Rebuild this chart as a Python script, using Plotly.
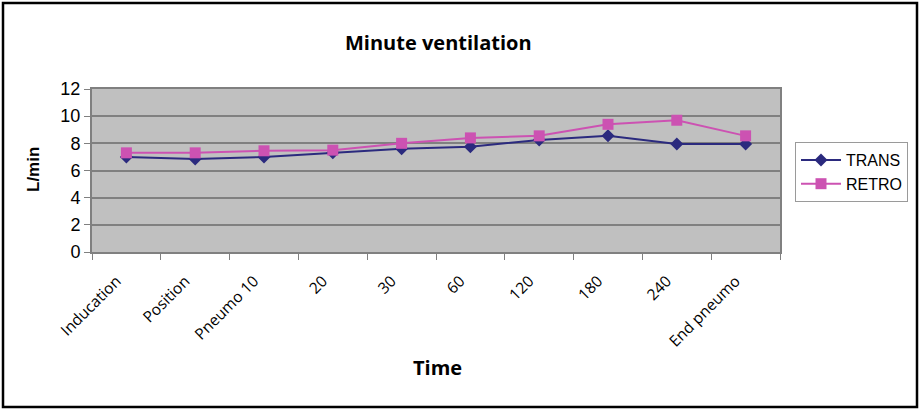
import plotly.graph_objects as go

categories = ["Inducation", "Position", "Pneumo 10", "20", "30", "60", "120", "180", "240", "End pneumo"]
trans = [7.0, 6.85, 7.0, 7.3, 7.6, 7.75, 8.25, 8.55, 7.95, 7.95]
retro = [7.3, 7.3, 7.45, 7.5, 8.0, 8.4, 8.55, 9.4, 9.7, 8.55]
y_ticks = [0, 2, 4, 6, 8, 10, 12]

W, H = 922, 412
L, R, T, B = 92, 780, 89, 252
pw, ph = R - L, B - T

def px(x):
    return (x - L) / pw

def py(y):
    return (B - y) / ph

fig = go.Figure()
fig.add_trace(go.Scatter(
    x=categories, y=trans, name="TRANS", mode="lines+markers",
    line=dict(color="#2b2a7e", width=2),
    marker=dict(symbol="diamond", size=10, color="#2b2a7e"),
))
fig.add_trace(go.Scatter(
    x=categories, y=retro, name="RETRO", mode="lines+markers",
    line=dict(color="#cc52b2", width=2),
    marker=dict(symbol="square", size=11, color="#cc52b2"),
))

fig.update_layout(
    width=W, height=H,
    margin=dict(l=L, r=W - R, t=T, b=H - B),
    paper_bgcolor="white",
    plot_bgcolor="#c0c0c0",
    showlegend=True,
    legend=dict(
        x=px(795), y=py(142), xanchor="left", yanchor="top",
        bordercolor="#9a9a9a", borderwidth=1, bgcolor="white",
        font=dict(family="Liberation Sans", size=16, color="black"),
        tracegroupgap=4, itemwidth=40,
    ),
    xaxis=dict(
        type="category", tickson="boundaries", ticks="outside", ticklen=6,
        tickcolor="#808080", tickangle=-45,
        tickfont=dict(family="Open Sans", size=15.5, color="black"),
        ticklabelstandoff=12, ticklabelshift=-10,
        showgrid=False, showline=True, linecolor="#808080", linewidth=2,
        mirror=True, range=[-0.5, len(categories) - 0.5],
    ),
    yaxis=dict(
        range=[0, 12], tickvals=y_ticks, ticks="outside", ticklen=6,
        tickcolor="#808080",
        tickfont=dict(family="Liberation Sans", size=18, color="black"),
        showgrid=True, gridcolor="#808080", gridwidth=1.5,
        showline=True, linecolor="#808080", linewidth=2, mirror=True,
        zeroline=False,
    ),
    annotations=[
        dict(text="<b>Minute ventilation</b>", x=px(438), y=py(42), xref="paper", yref="paper",
             xanchor="center", yanchor="middle",
             showarrow=False, font=dict(family="Open Sans", size=20, color="black")),
        dict(text="<b>Time</b>", x=px(437), y=py(367), xref="paper", yref="paper",
             xanchor="center", yanchor="middle",
             showarrow=False, font=dict(family="Open Sans", size=20, color="black")),
        dict(text="<b>L/min</b>", x=px(33), y=py(170), xref="paper", yref="paper",
             xanchor="center", yanchor="middle",
             showarrow=False, textangle=-90,
             font=dict(family="Liberation Sans", size=17, color="black")),
    ],
    shapes=[
        dict(type="rect", xref="paper", yref="paper",
             x0=px(3), x1=px(917), y0=py(407), y1=py(3),
             line=dict(color="black", width=2.5), layer="below"),
    ],
)

fig.write_html("out.html", config={"displayModeBar": False},
               post_script="document.body.style.margin='0';")
